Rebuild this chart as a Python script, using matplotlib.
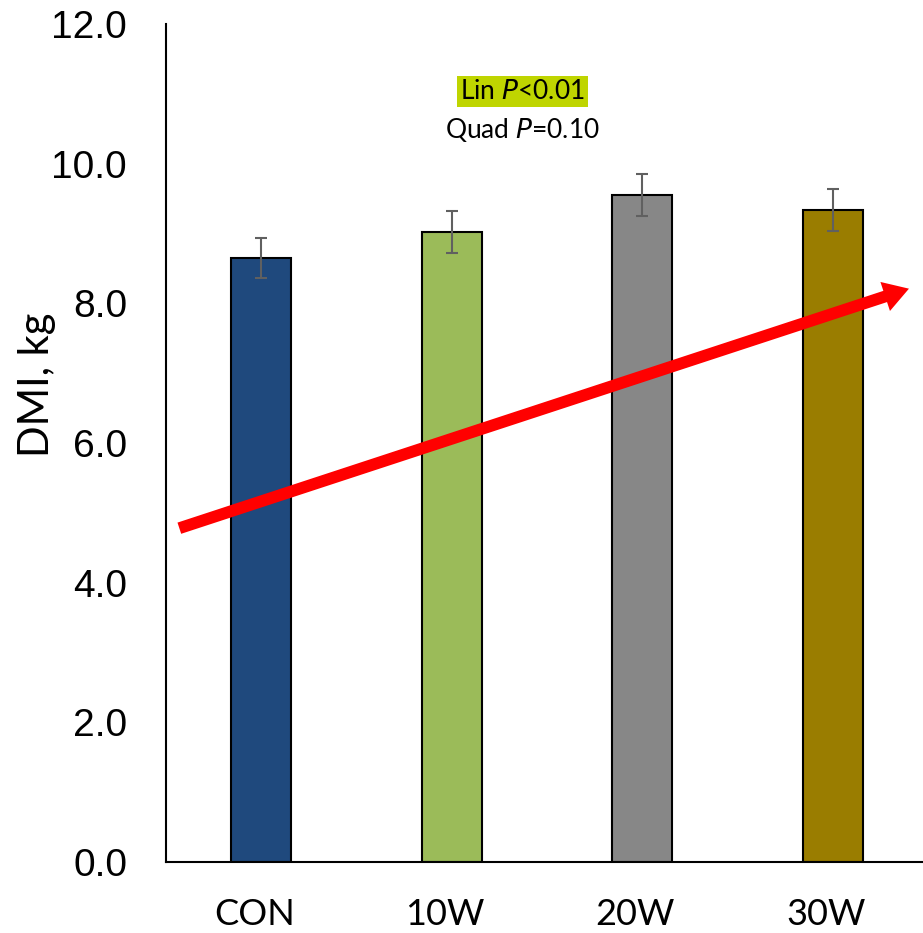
import matplotlib.pyplot as plt
import matplotlib.transforms as mtransforms
import numpy as np

treatments = ["CON", "10W", "20W", "30W"]
dmi = [8.65, 9.02, 9.55, 9.34]
dmi_se = [0.29, 0.30, 0.30, 0.30]
bar_colors = ["#1F497D", "#9BBB59", "#878787", "#9A7D00"]
y_ticks = [0.0, 2.0, 4.0, 6.0, 8.0, 10.0, 12.0]

fig = plt.figure(figsize=(9.23, 9.33), dpi=100)
ax = fig.add_axes([166 / 923, 71 / 933, 762 / 923, 838 / 933])

x = np.arange(len(treatments))
ax.bar(x, dmi, width=0.316, color=bar_colors, edgecolor="black", linewidth=1.5, zorder=2)
ax.errorbar(x, dmi, yerr=dmi_se, fmt="none", ecolor="#606060",
            elinewidth=1.5, capsize=4.5, capthick=1.5, zorder=3)

ax.set_xlim(-0.5, 3.5)
ax.set_ylim(0, 12)
ax.set_yticks(y_ticks)
ax.set_yticklabels([f"{v:.1f}" for v in y_ticks], fontsize=28, family="Liberation Sans")
ax.set_xticks(x)
ax.set_xticklabels(treatments, fontsize=26, family="Lato")
ax.tick_params(axis="both", length=0)
ax.tick_params(axis="x", pad=26)
ax.tick_params(axis="y", pad=28)

# category labels sit a little left of the bar centres
shift = mtransforms.ScaledTranslation(-7 / 100, 0, fig.dpi_scale_trans)
for lab in ax.get_xticklabels():
    lab.set_transform(lab.get_transform() + shift)

ax.set_ylabel("DMI, kg", fontsize=30, family="Lato")
ax.yaxis.set_label_coords(-0.145, 0.569)
for side in ["top", "right"]:
    ax.spines[side].set_visible(False)
for side in ["left", "bottom"]:
    ax.spines[side].set_linewidth(1.5)

# trend arrow
ax.annotate("", xy=(3.40, 8.21), xytext=(-0.43, 4.78),
            arrowprops=dict(arrowstyle="simple,head_length=1.8,head_width=2.2,tail_width=0.85",
                            color="#FF0000", lw=0, shrinkA=0, shrinkB=0),
            zorder=4)

# contrast p-values
ax.text(1.37, 11.03, "Lin $\\it{P}$<0.01", ha="center", va="center", fontsize=19,
        family="Lato", bbox=dict(facecolor="#BFD500", edgecolor="none", pad=2))
ax.text(1.37, 10.48, "Quad $\\it{P}$=0.10", ha="center", va="center", fontsize=19,
        family="Lato")

fig.savefig("out.png", dpi=100)
